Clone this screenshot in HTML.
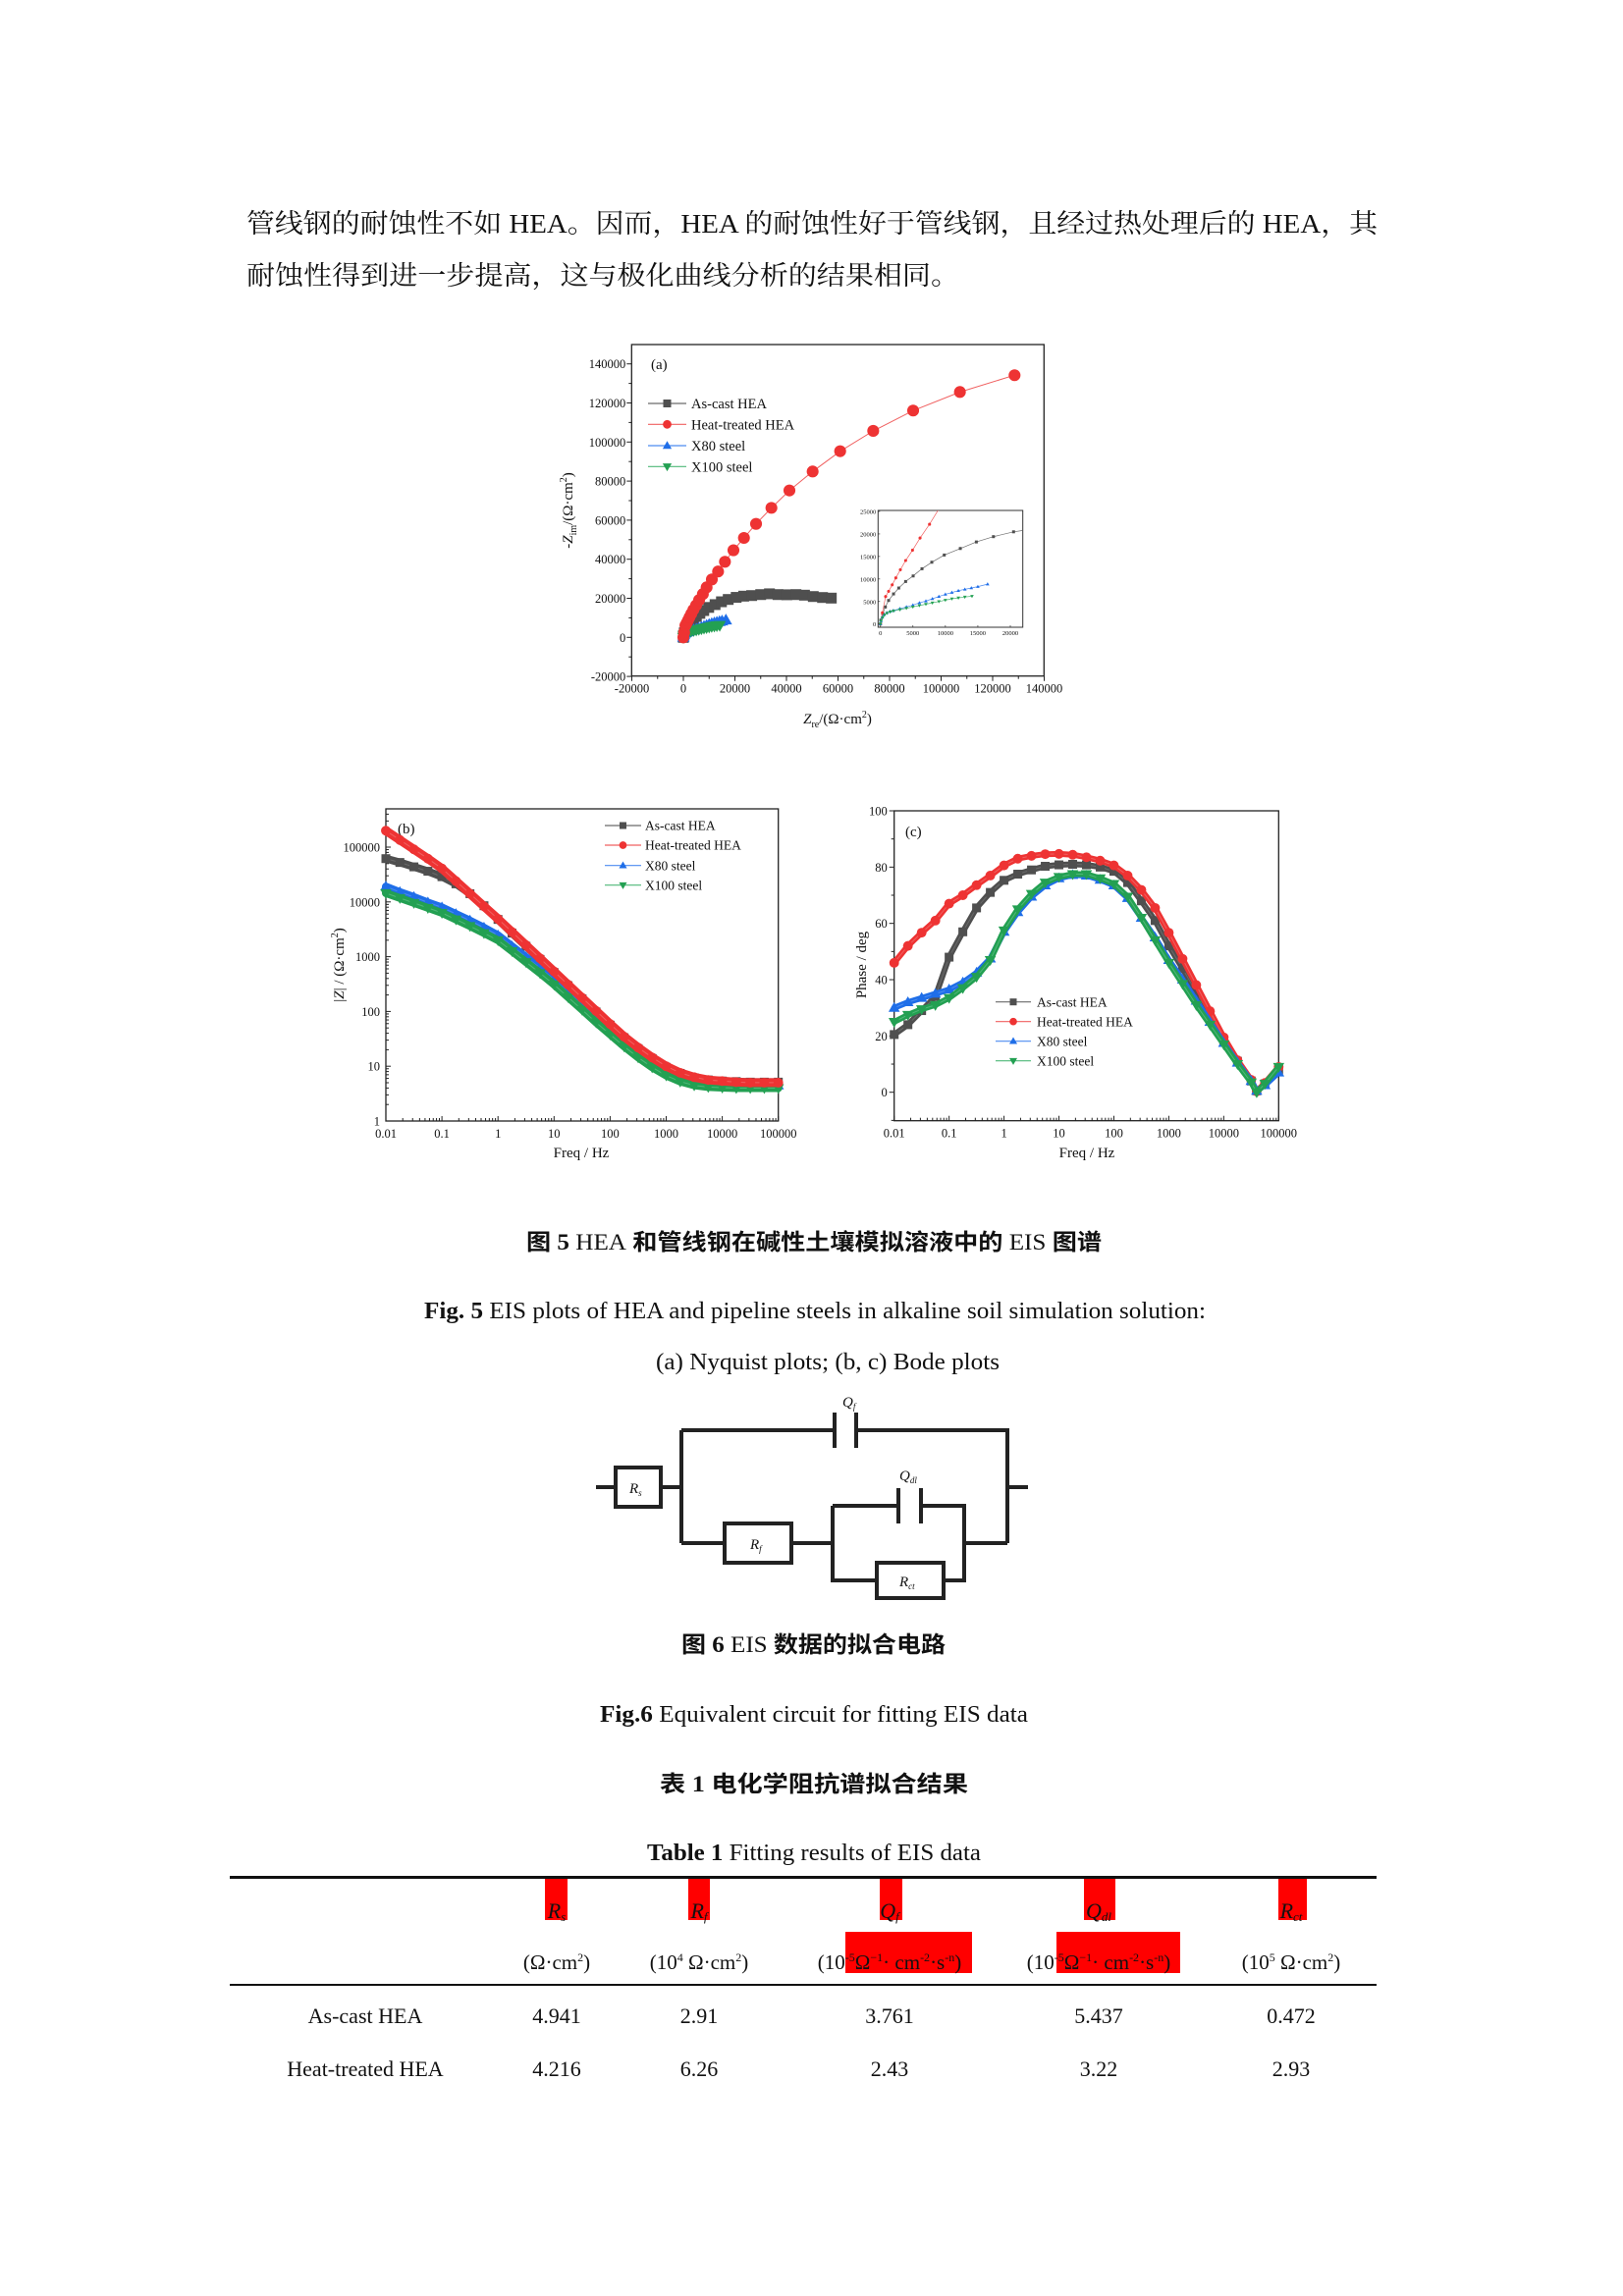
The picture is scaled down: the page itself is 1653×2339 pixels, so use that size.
<!DOCTYPE html>
<html><head><meta charset="utf-8">
<style>
html,body{margin:0;padding:0;background:#fff;}
svg{display:block;}
text{font-family:"Liberation Serif","Noto Serif CJK SC","Noto Sans CJK SC",serif;fill:#111;}
.cjk{font-family:"Liberation Serif","Noto Serif CJK SC",serif;}
.cjkb{font-family:"Liberation Serif","Noto Sans CJK SC",sans-serif;font-weight:bold;}
</style></head>
<body>
<svg id="page" width="1653" height="2339" viewBox="0 0 1653 2339" xmlns="http://www.w3.org/2000/svg">
<g>
<text class="cjk" x="251" y="237" font-size="27" textLength="1152" lengthAdjust="spacingAndGlyphs">管线钢的耐蚀性不如 HEA。因而，HEA 的耐蚀性好于管线钢，且经过热处理后的 HEA，其</text>
<text class="cjk" x="251" y="290" font-size="27" textLength="726" lengthAdjust="spacingAndGlyphs">耐蚀性得到进一步提高，这与极化曲线分析的结果相同。</text>
</g>
<g id="chartA"></g>
<g id="chartB"></g>
<g id="chartC"></g>

<g>
<text class="cjkb" x="536" y="1273" font-size="23" textLength="586" lengthAdjust="spacingAndGlyphs">图 5 <tspan font-weight="normal" font-family="Liberation Serif">HEA</tspan> 和管线钢在碱性土壤模拟溶液中的 <tspan font-weight="normal" font-family="Liberation Serif">EIS</tspan> 图谱</text>
<text x="432" y="1343" font-size="24" textLength="796" lengthAdjust="spacingAndGlyphs"><tspan font-weight="bold">Fig. 5</tspan> EIS plots of HEA and pipeline steels in alkaline soil simulation solution:</text>
<text x="668" y="1395" font-size="24" textLength="350" lengthAdjust="spacingAndGlyphs">(a) Nyquist plots; (b, c) Bode plots</text>
</g>

<g stroke="#222" stroke-width="4" fill="none">
<path d="M607 1515 H627 M673 1515 H694 M694 1457 V1572 M694 1457 H850 M872 1457 H1026 V1572 M1026 1515 H1047 M694 1572 H738 M806 1572 H848 M848 1534 V1610 H893 M961 1610 H982 V1534 H938 M915 1534 H848 M982 1572 H1026"/>
<path d="M850 1439 V1475 M872 1439 V1475 M915 1516 V1552 M938 1516 V1552"/>
<rect x="627" y="1495" width="46" height="40"/>
<rect x="738" y="1552" width="68" height="40"/>
<rect x="893" y="1592" width="68" height="36"/>
</g>
<g font-style="italic" font-size="15">
<text x="858" y="1433" fill="#555">Q<tspan font-size="9" dy="3">f</tspan></text>
<text x="916" y="1508" fill="#555">Q<tspan font-size="9" dy="3">dl</tspan></text>
<text x="641" y="1521" fill="#555">R<tspan font-size="9" dy="3">s</tspan></text>
<text x="764" y="1578" fill="#555">R<tspan font-size="9" dy="3">f</tspan></text>
<text x="916" y="1616" fill="#555">R<tspan font-size="9" dy="3">ct</tspan></text>
</g>

<g>
<text class="cjkb" x="694" y="1683" font-size="23" textLength="269" lengthAdjust="spacingAndGlyphs">图 6 <tspan font-weight="normal" font-family="Liberation Serif">EIS</tspan> 数据的拟合电路</text>
<text x="611" y="1754" font-size="24" textLength="436" lengthAdjust="spacingAndGlyphs"><tspan font-weight="bold">Fig.6</tspan> Equivalent circuit for fitting EIS data</text>
<text class="cjkb" x="672" y="1825" font-size="23" textLength="314" lengthAdjust="spacingAndGlyphs">表  1  电化学阻抗谱拟合结果</text>
<text x="659" y="1895" font-size="24" textLength="340" lengthAdjust="spacingAndGlyphs"><tspan font-weight="bold">Table 1</tspan> Fitting results of EIS data</text>
</g>

<g>
<rect x="234" y="1911" width="1168" height="3" fill="#111"/>
<rect x="234" y="2021" width="1168" height="2" fill="#111"/>
<g fill="#ff0000">
<rect x="555" y="1914" width="23" height="42"/><rect x="701" y="1914" width="22" height="42"/>
<rect x="896" y="1914" width="23" height="42"/><rect x="1104" y="1914" width="32" height="42"/>
<rect x="1302" y="1914" width="29" height="42"/>
<rect x="861" y="1968" width="129" height="42"/><rect x="1076" y="1968" width="126" height="42"/>
</g>
<g font-size="22" text-anchor="middle" font-style="italic">
<text x="567" y="1954">R<tspan font-size="13" dy="3">s</tspan></text>
<text x="712" y="1954">R<tspan font-size="13" dy="3">f</tspan></text>
<text x="906" y="1954">Q<tspan font-size="13" dy="3">f</tspan></text>
<text x="1119" y="1954">Q<tspan font-size="13" dy="3">dl</tspan></text>
<text x="1315" y="1954">R<tspan font-size="13" dy="3">ct</tspan></text>
</g>
<g font-size="21" text-anchor="middle">
<text x="567" y="2006">(Ω·cm<tspan font-size="12" dy="-8">2</tspan><tspan dy="8">)</tspan></text>
<text x="712" y="2006">(10<tspan font-size="12" dy="-8">4</tspan><tspan dy="8"> Ω·cm</tspan><tspan font-size="12" dy="-8">2</tspan><tspan dy="8">)</tspan></text>
<text x="906" y="2006">(10<tspan font-size="12" dy="-8">-5</tspan><tspan dy="8">Ω</tspan><tspan font-size="12" dy="-8">−1</tspan><tspan dy="8">· cm</tspan><tspan font-size="12" dy="-8">-2</tspan><tspan dy="8">·s</tspan><tspan font-size="12" dy="-8">-n</tspan><tspan dy="8">)</tspan></text>
<text x="1119" y="2006">(10<tspan font-size="12" dy="-8">-5</tspan><tspan dy="8">Ω</tspan><tspan font-size="12" dy="-8">−1</tspan><tspan dy="8">· cm</tspan><tspan font-size="12" dy="-8">-2</tspan><tspan dy="8">·s</tspan><tspan font-size="12" dy="-8">-n</tspan><tspan dy="8">)</tspan></text>
<text x="1315" y="2006">(10<tspan font-size="12" dy="-8">5</tspan><tspan dy="8"> Ω·cm</tspan><tspan font-size="12" dy="-8">2</tspan><tspan dy="8">)</tspan></text>
</g>
<g font-size="22" text-anchor="middle">
<text x="372" y="2061">As-cast HEA</text>
<text x="567" y="2061">4.941</text><text x="712" y="2061">2.91</text><text x="906" y="2061">3.761</text><text x="1119" y="2061">5.437</text><text x="1315" y="2061">0.472</text>
<text x="372" y="2115">Heat-treated HEA</text>
<text x="567" y="2115">4.216</text><text x="712" y="2115">6.26</text><text x="906" y="2115">2.43</text><text x="1119" y="2115">3.22</text><text x="1315" y="2115">2.93</text>
</g>
</g>
</svg>
<script>
// ===== Chart data =====
const seriesNames = ["As-cast HEA","Heat-treated HEA","X80 steel","X100 steel"];
// Nyquist (Zre, -Zim) in Ω·cm²
const nyqCastRe = [0,50,350,760,1260,2020,2820,3880,5040,6400,7910,9830,12300,14770,17400,20500,23400,26500,30000,33400,36700,40100,43700,47000,50400,54000,57400];
const nyqCastIm = [0,870,2320,3780,5230,6680,7990,9440,10670,12270,13720,15320,16770,18220,19400,20470,21100,21400,21900,22300,21900,21800,21900,21600,20900,20400,20100];
const nyqHeatRe = [0,300,800,1260,1810,2370,3070,3880,4940,6100,7560,9020,11050,13460,16130,19430,23500,28200,34160,41150,50160,60830,73660,89150,107300,128500];
const nyqHeatIm = [0,2500,6100,7260,8700,10240,12050,14100,16400,19100,22150,25600,29650,33700,38700,44600,50900,58100,66300,75200,84900,95300,105700,116100,125600,134200];
const nyqX80Re = [0,100,300,600,1000,1500,2000,3000,4000,5000,6000,7000,8000,9000,10000,11000,12000,13000,14000,15000,16500];
const nyqX80Im = [0,700,1500,2100,2500,2800,3000,3400,3800,4200,4700,5100,5600,6100,6600,7000,7400,7700,8000,8300,8860];
const nyqX100Re = [0,100,300,600,1000,1500,2000,3000,4000,5000,6000,7000,8000,9000,10000,11000,12000,13000,14100];
const nyqX100Im = [0,700,1400,2000,2400,2700,2900,3200,3500,3800,4100,4400,4700,5000,5300,5600,5800,6000,6170];
const nyqXTicks = [-20000,0,20000,40000,60000,80000,100000,120000,140000];
const nyqYTicks = [-20000,0,20000,40000,60000,80000,100000,120000,140000];
const insetXTicks = [0,5000,10000,15000,20000];
const insetYTicks = [0,5000,10000,15000,20000,25000];
// Bode: log10(freq) and log10(|Z|)
const bodeLogF = [-2,-1.75,-1.5,-1.25,-1,-0.75,-0.5,-0.25,0,0.25,0.5,0.75,1,1.25,1.5,1.75,2,2.25,2.5,2.75,3,3.25,3.5,3.75,4,4.25,4.5,4.75,5];
const modCast = [4.79,4.72,4.64,4.56,4.46,4.33,4.15,3.93,3.68,3.43,3.19,2.95,2.71,2.47,2.23,1.99,1.75,1.52,1.32,1.14,0.98,0.87,0.79,0.75,0.73,0.72,0.71,0.71,0.71];
const modHeat = [5.30,5.13,4.96,4.79,4.61,4.38,4.15,3.92,3.69,3.45,3.21,2.97,2.73,2.49,2.25,2.01,1.77,1.54,1.34,1.16,1.00,0.88,0.80,0.75,0.73,0.71,0.70,0.70,0.70];
const modX80 = [4.28,4.18,4.09,3.99,3.90,3.78,3.66,3.53,3.39,3.19,2.99,2.79,2.58,2.35,2.12,1.88,1.65,1.42,1.22,1.04,0.89,0.78,0.71,0.68,0.66,0.65,0.65,0.65,0.65];
const modX100 = [4.16,4.07,3.98,3.89,3.80,3.68,3.56,3.43,3.30,3.10,2.90,2.70,2.49,2.26,2.03,1.80,1.58,1.36,1.16,0.98,0.83,0.72,0.65,0.62,0.61,0.60,0.60,0.60,0.60];
const modYTicks = ["1","10","100","1000","10000","100000"];
const freqTicks = ["0.01","0.1","1","10","100","1000","10000","100000"];
// Phase (deg)
const phaseLogF = [-2,-1.75,-1.5,-1.25,-1,-0.75,-0.5,-0.25,0,0.25,0.5,0.75,1,1.25,1.5,1.75,2,2.25,2.5,2.75,3,3.25,3.5,3.75,4,4.25,4.5,4.6,4.75,5];
const phCast = [20.5,24,29,34,48,57,65.5,71,75.3,77.5,79,80.3,80.8,81,80.8,80,78.5,74.5,68,61,52,44,35.5,27,18.5,11,4,0.5,3,8];
const phHeat = [46,52,56.7,61,67,70,73.6,77,80.6,83,84,84.6,84.7,84.4,83.5,82.3,80.6,77,71.9,65.5,56.7,47.4,38.1,28.8,19.5,11.4,4.4,0.3,3.3,9];
const phX80 = [30,32,33.5,35,36.5,39,42.5,47.5,57,64,69.5,73.5,76,77.2,77,75.5,73.5,69,62,55,47,40,32.5,25,17.5,10.5,4,0.5,2.5,7];
const phX100 = [25,27.5,29.5,31,33.5,37,41,47,57.5,65,70.5,74.5,76.5,77.5,77.5,76,74,69.5,62,54,46,38.5,31,24,17,10,3.5,0,3,9];
const phYTicks = [0,20,40,60,80,100];

const NS="http://www.w3.org/2000/svg";
const COL={cast:{f:"#4f4f4f",l:"#6a6a6a"},heat:{f:"#ee3333",l:"#f06060"},x80:{f:"#1f6ee8",l:"#4d8cf0"},x100:{f:"#23a052",l:"#4fb878"}};
function mk(parent,tag,attrs){const e=document.createElementNS(NS,tag);for(const k in attrs)e.setAttribute(k,attrs[k]);parent.appendChild(e);return e;}
function marker(g,shape,x,y,s,fill){
  let e;
  if(shape==="sq"){e=mk(g,"rect",{x:x-s,y:y-s,width:2*s,height:2*s,fill:fill});}
  else if(shape==="ci"){e=mk(g,"circle",{cx:x,cy:y,r:s*1.1,fill:fill});}
  else if(shape==="tu"){e=mk(g,"path",{d:`M${x} ${y-s*1.2}L${x+s*1.15} ${y+s*0.8}L${x-s*1.15} ${y+s*0.8}Z`,fill:fill});}
  else {e=mk(g,"path",{d:`M${x} ${y+s*1.2}L${x+s*1.15} ${y-s*0.8}L${x-s*1.15} ${y-s*0.8}Z`,fill:fill});}
  
  
  return e;
}
function series(g,xs,ys,sx,sy,shape,c,s,lw,name,band){
  const sg=mk(g,"g",{});
  
  
  let d="";for(let i=0;i<xs.length;i++){d+=(i?"L":"M")+sx(xs[i]).toFixed(1)+" "+sy(ys[i]).toFixed(1);}
  if(band)mk(sg,"path",{d:d,fill:"none",stroke:c.f,"stroke-width":band,"stroke-linejoin":"round","stroke-linecap":"round"});
  mk(sg,"path",{d:d,fill:"none",stroke:c.l,"stroke-width":lw});
  for(let i=0;i<xs.length;i++)marker(sg,shape,sx(xs[i]),sy(ys[i]),s,c.f);
}
function txt(g,x,y,s,size,anchor){const t=mk(g,"text",{x:x,y:y,"font-size":size,"text-anchor":anchor||"start"});t.textContent=s;return t;}
function legend(g,x0,x1,tx,ys,size,s,name){
  const lg=mk(g,"g",{});
  
  
  const keys=["cast","heat","x80","x100"],sh=["sq","ci","tu","td"];
  for(let i=0;i<4;i++){
    const eg=mk(lg,"g",{});
    
    
    mk(eg,"line",{x1:x0,x2:x1,y1:ys[i],y2:ys[i],stroke:COL[keys[i]].l,"stroke-width":1.2});
    marker(eg,sh[i],(x0+x1)/2,ys[i],s,COL[keys[i]].f);
    txt(eg,tx,ys[i]+size*0.35,seriesNames[i],size);
  }
}

// ===== Chart A: Nyquist =====
(function(){
  const g=document.getElementById("chartA");
  const L=643.3,R=1063.3,T=351,B=688.7;
  const sx=v=>696+(v)*52.5/20000, sy=v=>649.3-v*39.8/20000;
  mk(g,"rect",{x:L,y:T,width:R-L,height:B-T,fill:"none",stroke:"#222","stroke-width":1.3});
  nyqXTicks.forEach(v=>{const x=sx(v);mk(g,"line",{x1:x,x2:x,y1:B,y2:B+5,stroke:"#222","stroke-width":1});txt(g,x,B+17,String(v),12.5,"middle");});
  for(let v=-10000;v<140000;v+=20000){const x=sx(v);mk(g,"line",{x1:x,x2:x,y1:B,y2:B+3,stroke:"#222","stroke-width":1});}
  nyqYTicks.forEach(v=>{const y=sy(v);mk(g,"line",{x1:L-5,x2:L,y1:y,y2:y,stroke:"#222","stroke-width":1});txt(g,L-6,y+4.5,String(v),12.5,"end");});
  for(let v=-10000;v<150000;v+=20000){const y=sy(v);mk(g,"line",{x1:L-3,x2:L,y1:y,y2:y,stroke:"#222","stroke-width":1});}
  const xl=txt(g,853,737,"",15,"middle");xl.innerHTML='<tspan font-style="italic">Z</tspan><tspan font-size="10" dy="4">re</tspan><tspan dy="-4">/(Ω·cm</tspan><tspan font-size="10" dy="-6">2</tspan><tspan dy="6">)</tspan>';
  const yl=txt(g,0,0,"",15,"middle");yl.setAttribute("transform","translate(583,520) rotate(-90)");
  yl.innerHTML='-<tspan font-style="italic">Z</tspan><tspan font-size="10" dy="4">im</tspan><tspan dy="-4">/(Ω·cm</tspan><tspan font-size="10" dy="-6">2</tspan><tspan dy="6">)</tspan>';
  txt(g,663,376,"(a)",15);
  series(g,nyqCastRe,nyqCastIm,sx,sy,"sq",COL.cast,5.5,1,"series-as-cast");
  series(g,nyqX80Re,nyqX80Im,sx,sy,"tu",COL.x80,5.5,1,"series-x80");
  series(g,nyqX100Re,nyqX100Im,sx,sy,"td",COL.x100,5.5,1,"series-x100");
  series(g,nyqHeatRe,nyqHeatIm,sx,sy,"ci",COL.heat,5.5,1,"series-heat-treated");
  legend(g,660,699,704,[411,432.3,454,475.3],14.5,4,"legend-a");
  const ig=mk(g,"g",{});
  
  
  const iL=894.3,iR=1041.7,iT=520,iB=639;
  mk(ig,"rect",{x:iL,y:iT,width:iR-iL,height:iB-iT,fill:"#fff",stroke:"#333","stroke-width":1});
  const isx=v=>896.7+v*132.3/20000, isy=v=>635.7-v*114.7/25000;
  insetXTicks.forEach(v=>{const x=isx(v);mk(ig,"line",{x1:x,x2:x,y1:iB,y2:iB-2,stroke:"#333","stroke-width":0.7});txt(ig,x,iB+8,String(v),6.5,"middle");});
  insetYTicks.forEach(v=>{const y=isy(v);mk(ig,"line",{x1:iL,x2:iL+2,y1:y,y2:y,stroke:"#333","stroke-width":0.7});txt(ig,iL-2,y+2.5,String(v),6.5,"end");});
  const defs=mk(ig,"defs",{});const cp=mk(defs,"clipPath",{id:"insetClip"});mk(cp,"rect",{x:iL,y:iT,width:iR-iL,height:iB-iT});
  const cg=mk(ig,"g",{"clip-path":"url(#insetClip)"});
  series(cg,nyqCastRe,nyqCastIm,isx,isy,"sq",COL.cast,1.5,0.7,"inset-as-cast");
  series(cg,nyqHeatRe,nyqHeatIm,isx,isy,"ci",COL.heat,1.4,0.7,"inset-heat-treated");
  series(cg,nyqX80Re,nyqX80Im,isx,isy,"tu",COL.x80,1.6,0.7,"inset-x80");
  series(cg,nyqX100Re,nyqX100Im,isx,isy,"td",COL.x100,1.6,0.7,"inset-x100");
})();

// ===== Chart B: |Z| =====
(function(){
  const g=document.getElementById("chartB");
  const L=393,R=792.7,T=824,B=1142;
  const dec=(R-L)/7;
  const sx=lf=>L+(lf+2)*dec, sy=lz=>B-lz*55.8;
  mk(g,"rect",{x:L,y:T,width:R-L,height:B-T,fill:"none",stroke:"#222","stroke-width":1.3});
  freqTicks.forEach((s,i)=>{const x=L+i*dec;mk(g,"line",{x1:x,x2:x,y1:B,y2:B-5,stroke:"#222"});txt(g,x,B+17,s,12.5,"middle");
    if(i<7)for(let k=2;k<10;k++){const xx=x+Math.log10(k)*dec;mk(g,"line",{x1:xx,x2:xx,y1:B,y2:B-3,stroke:"#222"});}});
  modYTicks.forEach((s,i)=>{const y=sy(i);mk(g,"line",{x1:L,x2:L+5,y1:y,y2:y,stroke:"#222"});txt(g,L-6,y+4.5,s,12.5,"end");
    for(let k=2;k<10;k++){const yy=y-Math.log10(k)*55.8;if(yy>T)mk(g,"line",{x1:L,x2:L+3,y1:yy,y2:yy,stroke:"#222"});}});
  txt(g,592,1179,"Freq / Hz",15,"middle");
  const yl=txt(g,0,0,"",15,"middle");yl.setAttribute("transform","translate(350,983) rotate(-90)");
  yl.innerHTML='|<tspan font-style="italic">Z</tspan>| / (Ω·cm<tspan font-size="10" dy="-6">2</tspan><tspan dy="6">)</tspan>';
  txt(g,405,849,"(b)",15);
  series(g,bodeLogF,modCast,sx,sy,"sq",COL.cast,4.5,1,"series-as-cast",8);
  series(g,bodeLogF,modX80,sx,sy,"tu",COL.x80,5,1,"series-x80",8);
  series(g,bodeLogF,modX100,sx,sy,"td",COL.x100,5,1,"series-x100",8);
  series(g,bodeLogF,modHeat,sx,sy,"ci",COL.heat,4.5,1,"series-heat-treated",9);
  legend(g,616,653,657,[841,861,881.7,901.7],13.5,3.5,"legend-b");
})();

// ===== Chart C: Phase =====
(function(){
  const g=document.getElementById("chartC");
  const L=910.7,R=1302.3,T=826,B=1141.7;
  const dec=(R-L)/7;
  const sx=lf=>L+(lf+2)*dec, sy=p=>1112.7-p*2.867;
  mk(g,"rect",{x:L,y:T,width:R-L,height:B-T,fill:"none",stroke:"#222","stroke-width":1.3});
  freqTicks.forEach((s,i)=>{const x=L+i*dec;mk(g,"line",{x1:x,x2:x,y1:B,y2:B-5,stroke:"#222"});txt(g,x,B+17,s,12.5,"middle");
    if(i<7)for(let k=2;k<10;k++){const xx=x+Math.log10(k)*dec;mk(g,"line",{x1:xx,x2:xx,y1:B,y2:B-3,stroke:"#222"});}});
  phYTicks.forEach(v=>{const y=sy(v);mk(g,"line",{x1:L-5,x2:L,y1:y,y2:y,stroke:"#222"});txt(g,L-7,y+4.5,String(v),12.5,"end");});
  for(let v=-10;v<100;v+=20){const y=sy(v);mk(g,"line",{x1:L-3,x2:L,y1:y,y2:y,stroke:"#222"});}
  txt(g,1107,1179,"Freq / Hz",15,"middle");
  const yl=txt(g,0,0,"Phase / deg",15,"middle");yl.setAttribute("transform","translate(882,983) rotate(-90)");
  txt(g,922,852,"(c)",15);
  series(g,phaseLogF,phCast,sx,sy,"sq",COL.cast,4.5,1,"series-as-cast",6);
  series(g,phaseLogF,phHeat,sx,sy,"ci",COL.heat,4.5,1,"series-heat-treated",6);
  series(g,phaseLogF,phX80,sx,sy,"tu",COL.x80,5,1,"series-x80",6);
  series(g,phaseLogF,phX100,sx,sy,"td",COL.x100,5,1,"series-x100",6);
  legend(g,1014,1050,1056,[1020.7,1040.7,1060.7,1080.7],13.5,3.5,"legend-c");
})();
</script>
</body></html>
